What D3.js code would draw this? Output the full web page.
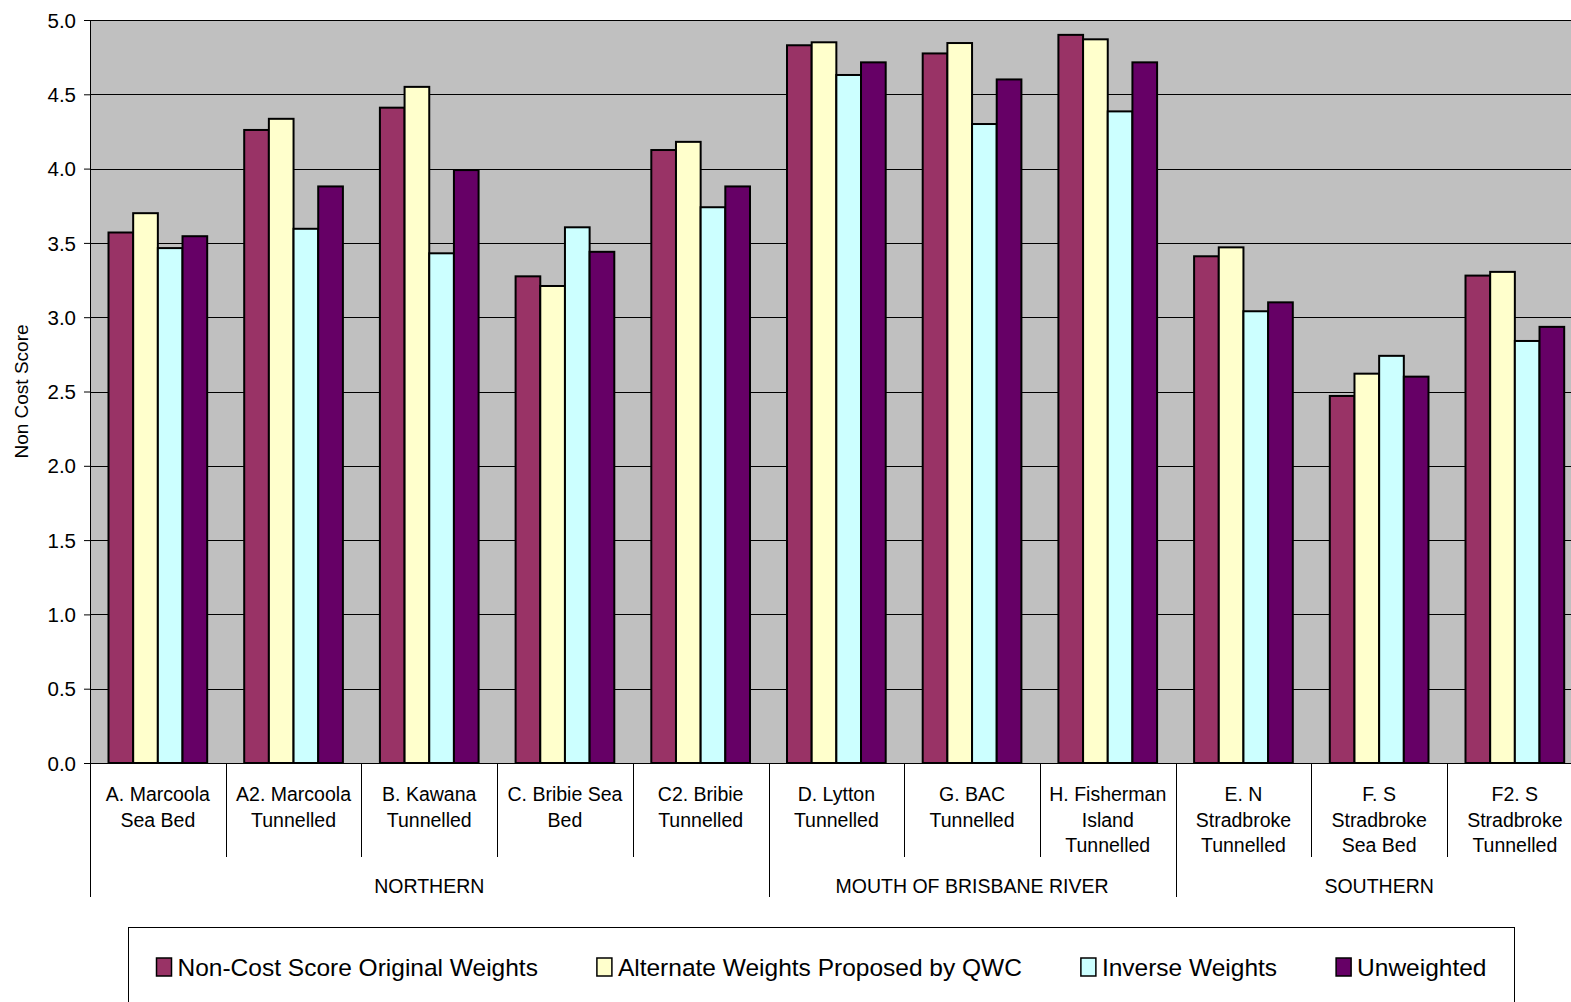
<!DOCTYPE html>
<html lang="en">
<head>
  <meta charset="UTF-8">
  <title>Non Cost Score</title>
  <script src="https://d3js.org/d3.v7.min.js"></script>
  <style>
    html, body {
      margin: 0;
      padding: 0;
      background: #fff;
    }
    svg text {
      font-family: "Liberation Sans", Arial, sans-serif;
      fill: #000;
    }
    .grid line {
      stroke: #000;
      stroke-width: 1;
    }
    .bar {
      stroke: #000;
      stroke-width: 2;
    }
  </style>
</head>
<body>
  <div id="container"></div>

  <script>
    const categories = [
      'A. Marcoola|Sea Bed',
      'A2. Marcoola|Tunnelled',
      'B. Kawana|Tunnelled',
      'C. Bribie Sea|Bed',
      'C2. Bribie|Tunnelled',
      'D. Lytton|Tunnelled',
      'G. BAC|Tunnelled',
      'H. Fisherman|Island|Tunnelled',
      'E. N|Stradbroke|Tunnelled',
      'F. S|Stradbroke|Sea Bed',
      'F2. S|Stradbroke|Tunnelled'
    ]
    const groupNames  = ['NORTHERN', 'MOUTH OF BRISBANE RIVER', 'SOUTHERN']
    const groupSizes  = [5, 3, 3]

    const seriesNames = ['Non-Cost Score Original Weights', 'Alternate Weights Proposed by QWC', 'Inverse Weights', 'Unweighted']
    const original    = [3.57, 4.26, 4.41, 3.275, 4.125, 4.83, 4.775, 4.90, 3.41, 2.47, 3.28]
    const alternate   = [3.70, 4.335, 4.55, 3.21, 4.18, 4.85, 4.845, 4.87, 3.47, 2.62, 3.305]
    const inverse     = [3.465, 3.595, 3.43, 3.605, 3.74, 4.63, 4.30, 4.385, 3.04, 2.74, 2.84]
    const unweighted  = [3.545, 3.88, 3.99, 3.44, 3.88, 4.715, 4.60, 4.715, 3.10, 2.60, 2.935]
    const yTicks      = [0, 0.5, 1, 1.5, 2, 2.5, 3, 3.5, 4, 4.5, 5]

    const seriesValues = [original, alternate, inverse, unweighted]
    const colors = ['#993366', '#FFFFCC', '#CCFFFF', '#660066']

    const width = 1571
    const height = 1002
    const plot = { left: 90, top: 20, bottom: 763, right: 90 + 11 * 135.7 }

    const svg = d3.select('#container').append('svg')
      .attr('width', width).attr('height', height)
      .style('display', 'block')

    // scales
    const x = d3.scaleBand().domain(d3.range(categories.length)).range([plot.left, plot.right]).padding(0)
    const xSub = d3.scaleBand().domain(d3.range(seriesNames.length)).range([0, x.bandwidth()])
      .paddingInner(0).paddingOuter(0.75)
    const y = d3.scaleLinear().domain([0, 5]).range([plot.bottom, plot.top])

    // plot background
    svg.append('rect')
      .attr('x', plot.left).attr('y', plot.top)
      .attr('width', plot.right - plot.left).attr('height', plot.bottom - plot.top)
      .attr('fill', '#C0C0C0')

    // gridlines
    svg.append('g').attr('class', 'grid')
      .selectAll('line').data(yTicks.slice(1)).join('line')
      .attr('x1', plot.left).attr('x2', plot.right)
      .attr('y1', d => Math.round(y(d)) + 0.5).attr('y2', d => Math.round(y(d)) + 0.5)

    // bars
    seriesValues.forEach((vals, si) => {
      svg.append('g')
        .selectAll('rect').data(vals).join('rect')
        .attr('class', 'bar')
        .attr('fill', colors[si])
        .attr('x', (d, i) => x(i) + xSub(si))
        .attr('width', xSub.bandwidth())
        .attr('y', d => y(d))
        .attr('height', d => y(0) - y(d))
    })

    // y axis
    const yAxis = d3.axisLeft(y).tickValues(yTicks).tickFormat(d3.format('.1f')).tickSize(6).tickPadding(8)
    const gy = svg.append('g').attr('transform', `translate(${plot.left},0)`).call(yAxis)
    gy.select('.domain').remove()
    gy.selectAll('.tick line').attr('stroke', '#000')
    gy.selectAll('.tick text').style('font-size', '20.5px').attr('dy', '0.35em')
    svg.append('line')
      .attr('x1', plot.left + 0.5).attr('x2', plot.left + 0.5)
      .attr('y1', plot.top).attr('y2', 897)
      .attr('stroke', '#000')

    // x axis line
    svg.append('line')
      .attr('x1', plot.left).attr('x2', plot.right)
      .attr('y1', Math.round(y(0)) + 0.5).attr('y2', Math.round(y(0)) + 0.5)
      .attr('stroke', '#000')

    svg.append('text')
      .attr('transform', `translate(28,${(plot.top + plot.bottom) / 2}) rotate(-90)`)
      .attr('text-anchor', 'middle')
      .style('font-size', '19px')
      .text('Non Cost Score')

    // category separators and labels
    const groupStarts = groupSizes.map((s, i) => d3.sum(groupSizes.slice(0, i)))
    svg.append('g').selectAll('line').data(d3.range(1, categories.length + 1)).join('line')
      .attr('x1', i => Math.round(x(i) ?? plot.right) + 0.5)
      .attr('x2', i => Math.round(x(i) ?? plot.right) + 0.5)
      .attr('y1', plot.bottom)
      .attr('y2', i => groupStarts.includes(i) ? 897 : 857)
      .attr('stroke', '#000')

    const catLabels = svg.append('g').selectAll('text').data(categories).join('text')
      .attr('text-anchor', 'middle')
      .style('font-size', '19.5px')
      .attr('x', (d, i) => x(i) + x.bandwidth() / 2)
      .attr('y', 801)
    catLabels.selectAll('tspan').data(d => d.split('|')).join('tspan')
      .attr('x', function () { return this.parentNode.getAttribute('x') })
      .attr('dy', (d, i) => i === 0 ? 0 : 25.5)
      .text(d => d)

    svg.append('g').selectAll('text').data(groupNames).join('text')
      .attr('text-anchor', 'middle')
      .style('font-size', '19.5px')
      .attr('x', (d, i) => {
        const a = x(groupStarts[i])
        const b = a + groupSizes[i] * x.step()
        return (a + b) / 2
      })
      .attr('y', 893)
      .text(d => d)

    // legend
    const legendBox = { left: 128.5, right: 1514.5, top: 927.5 }
    svg.append('rect')
      .attr('x', legendBox.left).attr('y', legendBox.top)
      .attr('width', legendBox.right - legendBox.left).attr('height', 120)
      .attr('fill', '#fff').attr('stroke', '#000')

    const legend = svg.append('g')
    const items = legend.selectAll('g').data(seriesNames).join('g')
    items.append('rect')
      .attr('width', 15).attr('height', 18).attr('y', -9)
      .attr('fill', (d, i) => colors[i]).attr('stroke', '#000').attr('stroke-width', 1.5)
    items.append('text')
      .attr('x', 21).attr('dy', '0.36em')
      .style('font-size', '24.5px')
      .text(d => d)

    let cursor = 0
    const offsets = []
    items.each(function () {
      offsets.push(cursor)
      cursor += 21 + this.querySelector('text').getComputedTextLength() + 59
    })
    const total = cursor - 59
    const startX = (legendBox.left + legendBox.right) / 2 - total / 2
    items.attr('transform', (d, i) => `translate(${startX + offsets[i]},967)`)
  </script>
</body>
</html>
